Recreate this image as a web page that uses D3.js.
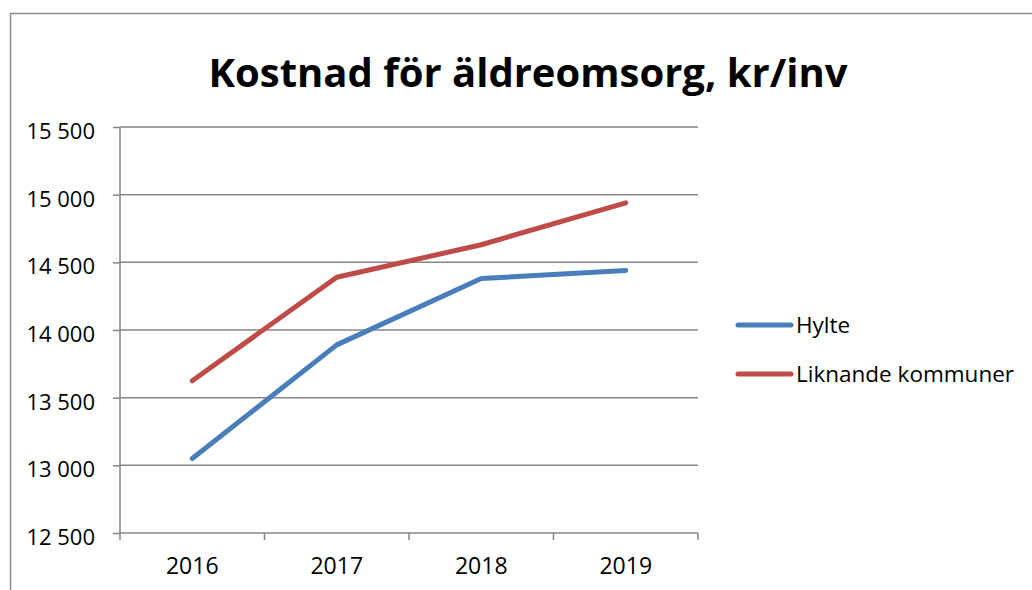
<!DOCTYPE html>
<html lang="sv">
<head>
<meta charset="utf-8">
<title>Kostnad för äldreomsorg</title>
<script src="https://d3js.org/d3.v7.min.js"></script>
<style>
  body { margin: 0; background: #fff; }
  text { font-family: "Open Sans", "Liberation Sans", sans-serif; fill: #000; }
</style>
</head>
<body>
<div id="chart"></div>
<script>
var years = ["2016", "2017", "2018", "2019"];
var hylte = [13050, 13890, 14380, 14440];
var liknande = [13625, 14390, 14630, 14940];
var seriesNames = ["Hylte", "Liknande kommuner"];
var seriesColors = ["#4a7ebb", "#be4b48"];
var yTicks = [12500, 13000, 13500, 14000, 14500, 15000, 15500];

var width = 1032, height = 590;
var m = {top: 127, right: 334, bottom: 57, left: 120};

var svg = d3.select("#chart").append("svg")
    .attr("width", width)
    .attr("height", height);

// outer frame
svg.append("path")
    .attr("d", "M10.5," + height + "V13.5H" + width)
    .attr("fill", "none")
    .attr("stroke", "#8c8c8c")
    .attr("stroke-width", 1.5);

svg.append("text")
    .attr("x", 528)
    .attr("y", 87)
    .attr("text-anchor", "middle")
    .attr("font-weight", "bold")
    .attr("font-size", 40)
    .text("Kostnad för äldreomsorg, kr/inv");

var x = d3.scaleBand()
    .domain(years)
    .range([m.left, width - m.right]);

var y = d3.scaleLinear()
    .domain([12500, 15500])
    .range([height - m.bottom, m.top]);

var fmt = function(d) { return d3.format(",")(d).replace(",", " "); };

// grid
svg.append("g")
  .selectAll("line")
  .data(yTicks.slice(1))
  .enter().append("line")
    .attr("x1", m.left)
    .attr("x2", width - m.right)
    .attr("y1", function(d) { return y(d); })
    .attr("y2", function(d) { return y(d); })
    .attr("stroke", "#868686")
    .attr("stroke-width", 1.5);

var yAxis = svg.append("g")
    .attr("transform", "translate(" + m.left + ",0)")
    .call(d3.axisLeft(y).tickValues(yTicks).tickFormat(fmt).tickSize(7).tickPadding(18));
yAxis.selectAll("line, path").attr("stroke", "#868686").attr("stroke-width", 1.5);
yAxis.select(".domain").attr("d", "M0," + y(12500) + "V" + y(15500));
yAxis.selectAll("text")
    .attr("font-size", 22)
    .attr("dy", "0.52em")
    .attr("font-family", "Open Sans, sans-serif");

var xAxis = svg.append("g")
    .attr("transform", "translate(0," + (height - m.bottom) + ")")
    .call(d3.axisBottom(x).tickSize(0).tickPadding(25));
xAxis.select(".domain").attr("stroke", "#868686").attr("stroke-width", 1.5)
    .attr("d", "M" + m.left + ",0H" + (width - m.right));
xAxis.selectAll("text")
    .attr("font-size", 23)
    .attr("font-family", "Open Sans, sans-serif");

// category separators
svg.append("g")
  .selectAll("line")
  .data(years.concat(["end"]))
  .enter().append("line")
    .attr("x1", function(d, i) { return m.left + i * x.step(); })
    .attr("x2", function(d, i) { return m.left + i * x.step(); })
    .attr("y1", height - m.bottom)
    .attr("y2", height - m.bottom + 7)
    .attr("stroke", "#868686")
    .attr("stroke-width", 1.5);

var line = d3.line()
    .x(function(d, i) { return x(years[i]) + x.bandwidth() / 2; })
    .y(function(d) { return y(d); });

[hylte, liknande].forEach(function(s, i) {
  svg.append("path")
      .datum(s)
      .attr("d", line)
      .attr("fill", "none")
      .attr("stroke", seriesColors[i])
      .attr("stroke-width", 5)
      .attr("stroke-linecap", "round")
      .attr("stroke-linejoin", "round");
});

var legend = svg.append("g")
  .selectAll("g")
  .data(seriesNames)
  .enter().append("g")
    .attr("transform", function(d, i) { return "translate(738," + (325 + i * 49) + ")"; });

legend.append("line")
    .attr("x1", 0)
    .attr("x2", 53)
    .attr("stroke", function(d, i) { return seriesColors[i]; })
    .attr("stroke-width", 5)
    .attr("stroke-linecap", "round");

legend.append("text")
    .attr("x", 58)
    .attr("dy", "0.35em")
    .attr("font-size", 22.5)
    .text(function(d) { return d; });
</script>
</body>
</html>
